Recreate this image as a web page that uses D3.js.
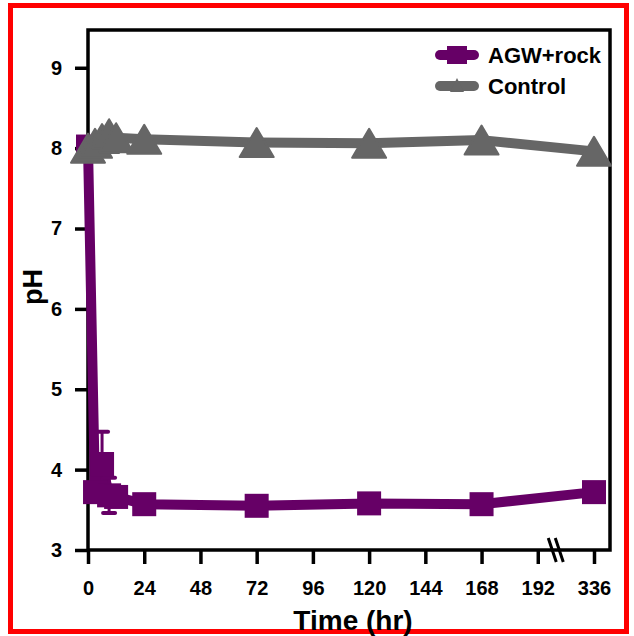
<!DOCTYPE html>
<html><head><meta charset="utf-8">
<script src="https://cdn.jsdelivr.net/npm/d3@7"></script>
<style>body{margin:0;background:#fff}svg{display:block}text{font-family:"Liberation Sans",Arial,sans-serif;font-weight:bold}</style>
</head><body><svg id="c" width="634" height="636"></svg>
<script>
const times = [0, 3, 6, 9, 12, 24, 72, 120, 168, 336];
const agwRock = [8.02, 3.72, 4.07, 3.68, 3.66, 3.57, 3.55, 3.58, 3.57, 3.72];
const agwErr  = [0, 0, 0.40, 0.22, 0, 0, 0, 0, 0, 0];
const control = [8.00, 8.06, 8.12, 8.18, 8.13, 8.11, 8.07, 8.06, 8.10, 7.96];
const xTicks = [0, 24, 48, 72, 96, 120, 144, 168, 192, 336];
const yTicks = [3, 4, 5, 6, 7, 8, 9];
const seriesNames = ["AGW+rock", "Control"];
const colors = ["#660066", "#666666"];

const svg = d3.select("#c");
const L = 88, R = 610, T = 30, B = 550;
const u = (594 - 88) / 9;
const x = d3.scaleLinear().domain([0, 192, 336]).range([L, L + 8 * u, L + 9 * u]);
const y = d3.scaleLinear().domain([3, 9.47]).range([B, T]);

// red outer border
svg.append("rect").attr("x", 10.5).attr("y", 5.5).attr("width", 616).attr("height", 626)
  .attr("fill", "none").attr("stroke", "#ff0000").attr("stroke-width", 5);

// frame
svg.append("rect").attr("x", L).attr("y", T).attr("width", R - L).attr("height", B - T)
  .attr("fill", "none").attr("stroke", "#000").attr("stroke-width", 3.5);

// axes
const xa = svg.append("g").attr("transform", `translate(0,${B})`)
  .call(d3.axisBottom(x).tickValues(xTicks).tickSize(14).tickPadding(17).tickFormat(d3.format("d")));
const ya = svg.append("g").attr("transform", `translate(${L},0)`)
  .call(d3.axisLeft(y).tickValues(yTicks).tickSize(13).tickPadding(13).tickFormat(d3.format("d")));
[xa, ya].forEach(a => {
  a.select(".domain").remove();
  a.selectAll(".tick line").attr("stroke", "#000").attr("stroke-width", 3.5);
  a.selectAll(".tick text").attr("fill", "#000").style("font-size", "20px");
});

// axis break marks
const bx = x(192) + 0.32 * (x(336) - x(192));
[-3.5, 3.5].forEach(o => {
  svg.append("line").attr("x1", bx + o - 4).attr("y1", B - 12).attr("x2", bx + o + 4).attr("y2", B + 12)
    .attr("stroke", "#000").attr("stroke-width", 3);
});

// axis titles
svg.append("text").attr("x", (L + R) / 2 + 4).attr("y", 630).attr("text-anchor", "middle")
  .style("font-size", "28px").attr("fill", "#000").text("Time (hr)");
svg.append("text").attr("transform", `translate(42,${(T + B) / 2 - 3}) rotate(-90)`).attr("text-anchor", "middle")
  .style("font-size", "27px").attr("fill", "#000").text("pH");

const line = d3.line().x(d => x(d.t)).y(d => y(d.v));
const agwData = times.map((t, i) => ({t, v: agwRock[i], e: agwErr[i]}));
const ctlData = times.map((t, i) => ({t, v: control[i]}));

// AGW+rock series
svg.append("path").datum(agwData).attr("d", line).attr("fill", "none")
  .attr("stroke", colors[0]).attr("stroke-width", 10).attr("stroke-linejoin", "round");
const eb = svg.append("g").selectAll("g").data(agwData.filter(d => d.e > 0)).join("g");
eb.append("line").attr("x1", d => x(d.t)).attr("x2", d => x(d.t))
  .attr("y1", d => y(d.v - d.e)).attr("y2", d => y(d.v + d.e)).attr("stroke", colors[0]).attr("stroke-width", 3);
[1, -1].forEach(s => {
  eb.append("line").attr("x1", d => x(d.t) - 6).attr("x2", d => x(d.t) + 6)
    .attr("y1", d => y(d.v + s * d.e)).attr("y2", d => y(d.v + s * d.e))
    .attr("stroke", colors[0]).attr("stroke-width", 4).attr("stroke-linecap", "round");
});
svg.append("g").selectAll("rect").data(agwData).join("rect")
  .attr("x", d => x(d.t) - 12).attr("y", d => y(d.v) - 12).attr("width", 24).attr("height", 24)
  .attr("fill", colors[0]);

// Control series
svg.append("path").datum(ctlData).attr("d", line).attr("fill", "none")
  .attr("stroke", colors[1]).attr("stroke-width", 10).attr("stroke-linejoin", "round");
const tri = (w, h) => `M0,${-h / 2}L${w / 2},${h / 2}L${-w / 2},${h / 2}Z`;
svg.append("g").selectAll("path").data(ctlData).join("path")
  .attr("transform", d => `translate(${x(d.t)},${y(d.v)})`)
  .attr("d", tri(34, 29)).attr("fill", colors[1]).attr("stroke", colors[1]).attr("stroke-width", 2).attr("stroke-linejoin", "round");

// legend
const lg = svg.append("g");
seriesNames.forEach((n, i) => {
  const ly = 55 + i * 31;
  lg.append("line").attr("x1", 440).attr("x2", 474).attr("y1", ly).attr("y2", ly)
    .attr("stroke", colors[i]).attr("stroke-width", 10).attr("stroke-linecap", "round");
  if (i === 0) {
    lg.append("rect").attr("x", 447).attr("y", ly - 9).attr("width", 20).attr("height", 18).attr("fill", colors[i]);
  } else {
    lg.append("path").attr("transform", `translate(457,${ly - 1})`).attr("d", tri(14, 14)).attr("fill", colors[i]);
  }
  lg.append("text").attr("x", 488).attr("y", ly).attr("dy", "0.35em").style("font-size", "22px")
    .attr("fill", "#000").text(n);
});
</script></body></html>
